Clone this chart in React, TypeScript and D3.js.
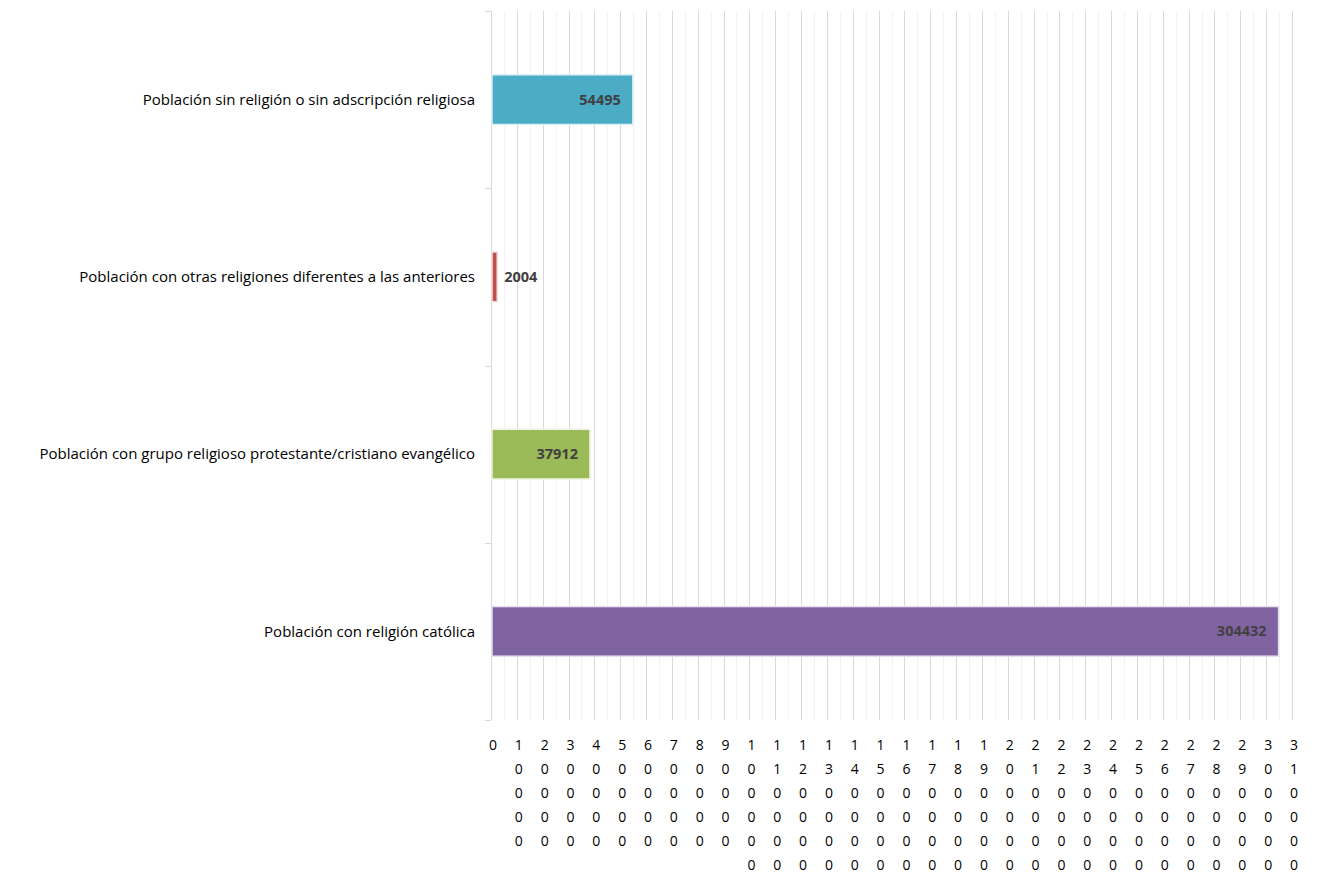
import React, { useEffect, useRef } from 'react';
import * as d3 from 'd3';

// categories top -> bottom
const categories = [
  'Población sin religión o sin adscripción religiosa',
  'Población con otras religiones diferentes a las anteriores',
  'Población con grupo religioso protestante/cristiano evangélico',
  'Población con religión católica',
];
const values = [54495, 2004, 37912, 304432];
const colors = ['#4BACC6', '#C0504D', '#9BBB59', '#8064A2'];
const borders = ['#dbeef4', '#f2dcdb', '#ebf1de', '#e4dfec'];
const xMax = 310000;
const tickStep = 10000;

const App: React.FC = () => {
  const svgRef = useRef<SVGSVGElement>(null);

  useEffect(() => {
    if (!svgRef.current) return;
    const width = 1327;
    const height = 875;
    const left = 491;
    const right = 1292;
    const top = 11;
    const bottom = 720;
    const font = "'Open Sans', sans-serif";

    const svg = d3.select(svgRef.current);
    svg.selectAll('*').remove();
    svg.attr('width', width).attr('height', height);

    const x = d3.scaleLinear().domain([0, xMax]).range([left, right]);
    const y = d3.scaleBand<string>().domain(categories).range([top, bottom]).paddingInner(0.72).paddingOuter(0.36);
    const band = d3.scaleBand<string>().domain(categories).range([top, bottom]);

    // minor gridlines
    const minor = d3.range(tickStep / 2, xMax, tickStep);
    svg.append('g').selectAll('line').data(minor).join('line')
      .attr('x1', d => Math.round(x(d)) + 0.5).attr('x2', d => Math.round(x(d)) + 0.5)
      .attr('y1', top).attr('y2', bottom)
      .attr('stroke', '#f2f2f2').attr('stroke-width', 1);

    // major gridlines
    const ticks = d3.range(0, xMax + 1, tickStep);
    svg.append('g').selectAll('line').data(ticks).join('line')
      .attr('x1', d => Math.round(x(d)) + 0.5).attr('x2', d => Math.round(x(d)) + 0.5)
      .attr('y1', top).attr('y2', bottom)
      .attr('stroke', '#d9d9d9').attr('stroke-width', 1);

    // category tick marks
    const bounds = categories.map(c => band(c) as number).concat([bottom]);
    svg.append('g').selectAll('line').data(bounds).join('line')
      .attr('x1', left - 6).attr('x2', left)
      .attr('y1', d => Math.round(d) + 0.5).attr('y2', d => Math.round(d) + 0.5)
      .attr('stroke', '#d9d9d9');

    // bars
    svg.append('g').selectAll('rect').data(values).join('rect')
      .attr('x', x(0) + 1)
      .attr('y', (d, i) => y(categories[i]) as number)
      .attr('width', d => x(d) - x(0))
      .attr('height', y.bandwidth())
      .attr('fill', (d, i) => colors[i])
      .attr('stroke', (d, i) => borders[i])
      .attr('stroke-width', 1.5);

    // value labels
    const inside = (d: number) => x(d) - x(0) > 60;
    svg.append('g').selectAll('text').data(values).join('text')
      .attr('x', d => (inside(d) ? x(d) - 11 : x(d) + 8))
      .attr('y', (d, i) => (y(categories[i]) as number) + y.bandwidth() / 2)
      .attr('dy', '0.35em')
      .attr('text-anchor', d => (inside(d) ? 'end' : 'start'))
      .attr('font-family', font)
      .attr('font-size', 14.5)
      .attr('font-weight', 'bold')
      .attr('fill', '#404040')
      .text(d => d);

    // category labels
    svg.append('g').selectAll('text').data(categories).join('text')
      .attr('x', 475)
      .attr('y', d => (band(d) as number) + band.bandwidth() / 2)
      .attr('dy', '0.35em')
      .attr('text-anchor', 'end')
      .attr('font-family', font)
      .attr('font-size', 15)
      .attr('fill', '#000')
      .text(d => d);

    // x tick labels, wrapped one digit per line
    const tg = svg.append('g').selectAll('text').data(ticks).join('text')
      .attr('x', d => x(d) + 2)
      .attr('y', 750)
      .attr('text-anchor', 'middle')
      .attr('font-family', font)
      .attr('font-size', 14)
      .attr('fill', '#000');
    tg.each(function (d) {
      const t = d3.select(this);
      String(d).split('').forEach((ch, k) => {
        t.append('tspan').attr('x', x(d) + 2).attr('dy', k === 0 ? 0 : 24).text(ch);
      });
    });
  }, []);

  return <svg ref={svgRef} style={{ position: 'absolute', left: 0, top: 0, display: 'block' }} />;
};

export default App;
